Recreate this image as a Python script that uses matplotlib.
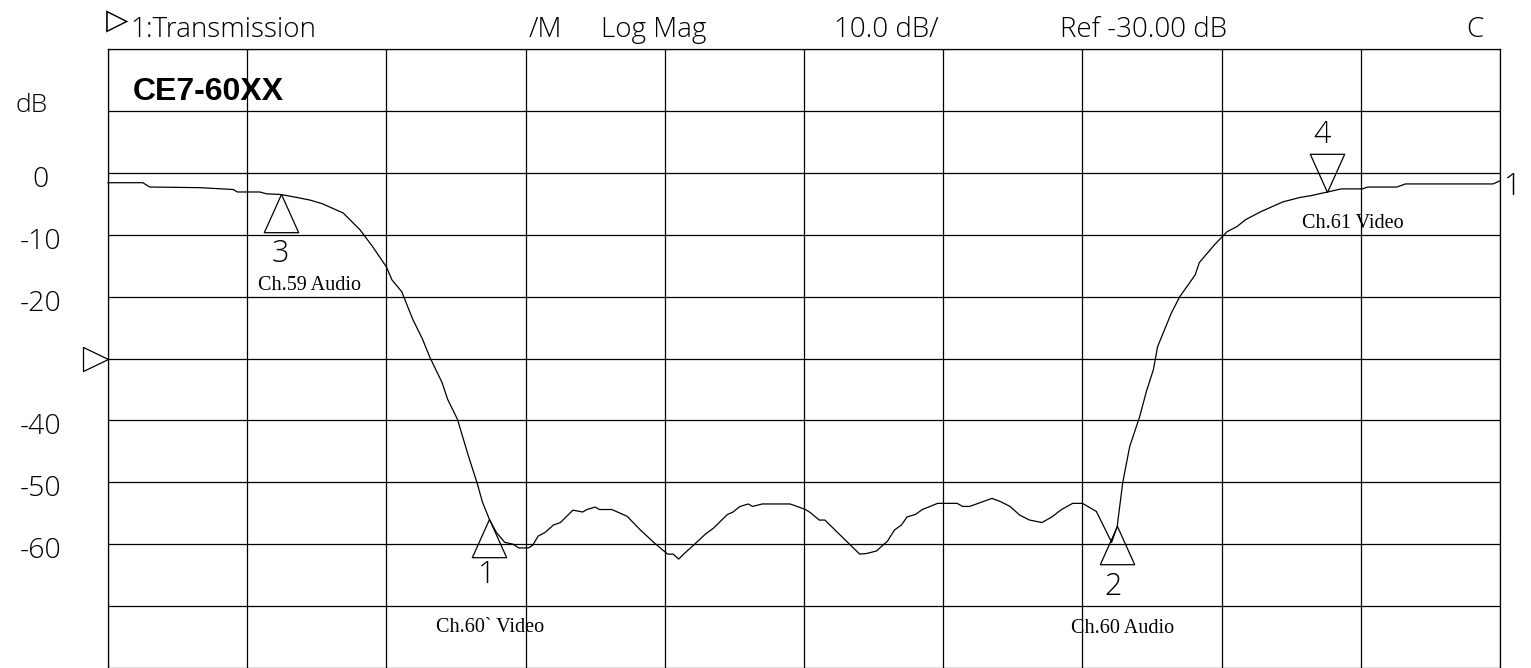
# Network analyser trace: CE7-60XX channel notch filter, transmission in dB

import numpy as np
import matplotlib.pyplot as plt
from matplotlib.path import Path
from matplotlib.markers import MarkerStyle

plt.rcParams['font.family'] = ['Open Sans', 'DejaVu Sans']
plt.rcParams['font.weight'] = 'light'

# trace, x in screen divisions (0..10), y in dB
trace_x = [0.00, 0.25, 0.30, 0.66, 0.90, 0.93, 1.09, 1.14, 1.24, 1.36, 1.45, 1.54, 1.69, 1.81,
           1.90, 2.00, 2.04, 2.11, 2.19, 2.26, 2.31, 2.40, 2.44, 2.51, 2.59, 2.65, 2.69, 2.74,
           2.79, 2.85, 2.91, 2.95, 3.02, 3.05, 3.09, 3.14, 3.20, 3.25, 3.34, 3.41, 3.44, 3.50,
           3.53, 3.62, 3.66, 3.73, 3.82, 3.92, 4.02, 4.06, 4.10, 4.15, 4.20, 4.29, 4.35, 4.45,
           4.49, 4.54, 4.60, 4.63, 4.70, 4.90, 4.95, 5.01, 5.04, 5.11, 5.15, 5.40, 5.45, 5.52,
           5.60, 5.65, 5.70, 5.74, 5.80, 5.85, 5.96, 6.10, 6.14, 6.19, 6.35, 6.41, 6.48, 6.55,
           6.62, 6.71, 6.78, 6.85, 6.93, 7.00, 7.10, 7.21, 7.25, 7.29, 7.34, 7.41, 7.46, 7.51,
           7.54, 7.64, 7.70, 7.81, 7.84, 7.95, 8.04, 8.11, 8.17, 8.28, 8.44, 8.56, 8.64, 8.76,
           8.86, 9.01, 9.05, 9.26, 9.32, 9.95, 10.00]
trace_db = [-1.6, -1.6, -2.3, -2.4, -2.7, -3.1, -3.1, -3.4, -3.5, -4.0, -4.4, -5.0, -6.5, -9.2,
            -11.9, -15.2, -17.3, -19.2, -23.7, -26.9, -29.7, -33.9, -36.6, -39.8, -45.8, -50.0, -53.2, -56.0,
            -58.1, -59.7, -60.0, -60.6, -60.6, -60.2, -58.7, -58.1, -56.9, -56.5, -54.5, -54.8, -54.4, -54.0,
            -54.4, -54.4, -54.8, -55.5, -57.6, -59.7, -61.6, -61.6, -62.4, -61.3, -60.3, -58.4, -57.4, -55.2,
            -54.8, -53.9, -53.5, -53.9, -53.5, -53.5, -53.9, -54.4, -54.8, -56.1, -56.1, -61.6, -61.5, -61.1,
            -59.5, -57.7, -56.9, -55.6, -55.2, -54.4, -53.4, -53.4, -53.9, -53.9, -52.6, -53.1, -53.9, -55.3,
            -56.1, -56.5, -55.6, -54.4, -53.4, -53.4, -54.7, -59.7, -57.1, -50.0, -44.2, -39.5, -35.3, -31.8,
            -28.1, -22.6, -20.0, -16.5, -14.5, -11.6, -9.5, -8.7, -7.6, -6.3, -4.7, -4.0, -3.7, -3.1,
            -2.6, -2.6, -2.3, -2.3, -1.8, -1.8, -1.3]
assert len(trace_x) == len(trace_db)

# markers
marker_ids = ['1', '2', '3', '4']
marker_x = [2.74, 7.25, 1.24, 8.76]
marker_db = [-56.0, -57.1, -3.5, -3.1]
marker_notes = ["Ch.60` Video", "Ch.60 Audio", "Ch.59 Audio", "Ch.61 Video"]

ytick_vals = [0, -10, -20, -40, -50, -60]
ref_level = -30

# layout (pixels) for marker labels
marker_up = [True, True, True, False]
num_offset = [(-3, -56), (-4, -61), (0, -60), (-5, 57)]
note_offset = [(1, -108), (5, -102), (29, -91), (25, -32)]

W, H = 1531, 668
fig = plt.figure(figsize=(W / 100, H / 100), dpi=100)
ax = fig.add_axes([108 / W, 0, 1392 / W, 619 / H])
ax.set_xlim(0, 10)
ax.set_ylim(-80, 20)
ax.set_xticks(np.arange(0, 11))
ax.set_yticks(np.arange(-80, 21, 10))
ax.grid(True, color='black', lw=0.9)
ax.tick_params(length=0, labelbottom=False, labelleft=False)
for name, sp in ax.spines.items():
    sp.set_color('black')
    sp.set_linewidth(0.9)
ax.spines['bottom'].set_visible(False)

ax.plot(trace_x, trace_db, color='black', lw=0.9, clip_on=False)

up_tri = Path([(0, 0), (-0.45, -1), (0.45, -1), (0, 0)],
              [Path.MOVETO, Path.LINETO, Path.LINETO, Path.CLOSEPOLY])
down_tri = Path([(0, 0), (-0.45, 1), (0.45, 1), (0, 0)],
                [Path.MOVETO, Path.LINETO, Path.LINETO, Path.CLOSEPOLY])

for i in range(len(marker_ids)):
    mk = MarkerStyle(up_tri if marker_up[i] else down_tri)
    ax.plot([marker_x[i]], [marker_db[i]], linestyle='none', marker=mk, ms=55,
            mfc='none', mec='black', mew=0.9, clip_on=False)
    ax.annotate(marker_ids[i], (marker_x[i], marker_db[i]), xytext=num_offset[i],
                textcoords='offset pixels', ha='center', va='center', fontsize=22,
                annotation_clip=False)
    ax.annotate(marker_notes[i], (marker_x[i], marker_db[i]), xytext=note_offset[i],
                textcoords='offset pixels', ha='center', va='center', fontsize=14.5,
                family='Liberation Serif', weight='normal', annotation_clip=False)

# channel number at trace end
ax.annotate('1', (trace_x[-1], trace_db[-1]), xytext=(13, -6), textcoords='offset pixels',
            ha='center', va='center', fontsize=22, annotation_clip=False)

# reference level pointer on the left edge
ref_tri = Path([(0, 0), (-1, 0.48), (-1, -0.48), (0, 0)],
               [Path.MOVETO, Path.LINETO, Path.LINETO, Path.CLOSEPOLY])
ax.plot([0], [ref_level], linestyle='none', marker=MarkerStyle(ref_tri), ms=36,
        mfc='none', mec='black', mew=0.9, clip_on=False,
        transform=ax.get_yaxis_transform())

# y labels
for v in ytick_vals:
    ax.annotate(str(v), xy=(41 / W, v), xycoords=('figure fraction', 'data'),
                xytext=(0, -7), textcoords='offset pixels', ha='center', va='center',
                fontsize=20.5)
fig.text(32 / W, 1 - 106 / H, 'dB', ha='center', va='center', fontsize=19)

# header line
hy = 1 - 37 / H
fig.text(106 / W, 1 - 21 / H, '\u25b7', ha='left', va='center', fontsize=21,
         family=['DejaVu Sans'], weight='normal')
fig.text(130 / W, hy, '1:Transmission', va='baseline', fontsize=20)
fig.text(529 / W, hy, '/M', va='baseline', fontsize=20)
fig.text(601 / W, hy, 'Log Mag', va='baseline', fontsize=20)
fig.text(834 / W, hy, '10.0 dB/', va='baseline', fontsize=20)
fig.text(1060 / W, hy, 'Ref -30.00 dB', va='baseline', fontsize=20)
fig.text(1466 / W, hy, 'C', va='baseline', fontsize=20)

fig.text(133 / W, 1 - 100 / H, 'CE7-60XX', va='baseline', fontsize=23, weight='bold',
         family='Liberation Sans')

fig.savefig('out.png', dpi=100)
